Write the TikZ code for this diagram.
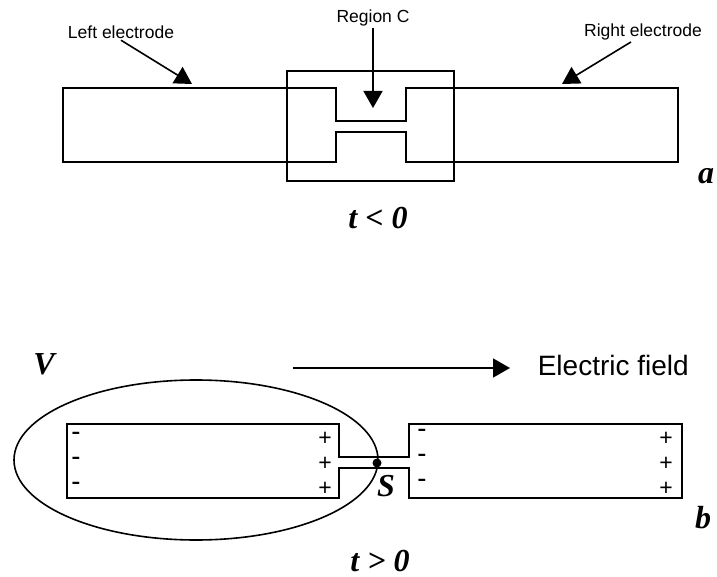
\documentclass[tikz,border=0pt]{standalone}
\usepackage{fontspec}
\setmainfont{Liberation Serif}
\newfontfamily\arialfont{Liberation Sans}
\usetikzlibrary{arrows.meta}
\tikzset{lbl/.style={font=\arialfont\fontsize{17.5}{20}\selectfont, inner sep=1pt},
  tlbl/.style={font=\bfseries\itshape\fontsize{32}{36}\selectfont, inner sep=0pt},
  minus/.style={font=\bfseries\fontsize{26}{28}\selectfont, inner sep=0pt},
  plus/.style={font=\arialfont\fontsize{23}{25}\selectfont, inner sep=0pt},
  ptr/.style={-{Triangle[length=17pt,width=19pt]}}}

\begin{document}
\begin{tikzpicture}[x=1pt, y=-1pt, line width=1.6pt]
  \useasboundingbox (0,0) rectangle (717,577);

  % (a) electrodes before the field
  \draw (63,88) -- (336,88) -- (336,121) -- (406,121) -- (406,88) -- (678,88)
     -- (678,162) -- (406,162) -- (406,132) -- (336,132) -- (336,162) -- (63,162) -- cycle;
  \draw (287,71) rectangle (454,181);

  \node[lbl] (leftlbl)  at (121,32) {Left electrode};
  \node[lbl] (regionlbl) at (373,18) {Region C};
  \node[lbl] (rightlbl) at (643,32) {Right electrode};
  \coordinate (lefttip)   at (192,84);
  \coordinate (regiontip) at (373,108);
  \coordinate (righttip)  at (562,84);
  \draw[ptr] (leftlbl.south) -- (lefttip);
  \draw[ptr] (regionlbl.south) -- (regiontip);
  \draw[ptr] ([xshift=-12pt]rightlbl.south) -- (righttip);

  \node[tlbl] (alabel) at (706,176) {a};
  \node[tlbl] (tneg)   at (378,218) {t < 0};

  % (b) electrodes with the field on
  \node[tlbl] (vlabel) at (44,364) {V};
  \coordinate (fieldstart) at (293,368);
  \coordinate (fieldend)   at (510,368);
  \draw[ptr] (fieldstart) -- (fieldend);
  \node[lbl, font=\arialfont\fontsize{28}{32}\selectfont, anchor=west] (fieldlbl) at (536,365) {Electric field};

  \draw (67,424) -- (339,424) -- (339,457) -- (409,457) -- (409,424) -- (682,424)
     -- (682,498) -- (409,498) -- (409,468) -- (339,468) -- (339,498) -- (67,498) -- cycle;
  \draw (196,460) ellipse [x radius=182, y radius=80];
  \fill (377,463) circle (4.5);
  \node[tlbl] (slabel) at (386,486) {S};

  \foreach \y [count=\i] in {439,464,489} {
    \node[minus] (lm\i) at (76,\y-3) {-};
    \node[plus]  (lp\i) at (325,\y) {+};
    \node[minus] (rm\i) at (422,\y-6) {-};
    \node[plus]  (rp\i) at (666,\y) {+};
  }

  \node[tlbl] (blabel) at (703,518) {b};
  \node[tlbl] (tpos)   at (380,561) {t > 0};
\end{tikzpicture}
\end{document}
